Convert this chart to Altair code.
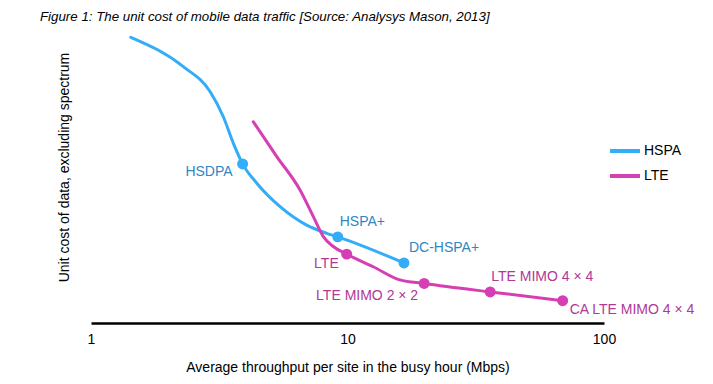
import altair as alt
import pandas as pd

# HSPA curve (throughput Mbps, relative unit cost)
hspa_x = [1.43, 2.29, 2.91, 3.28, 3.59, 3.90, 4.43, 5.46, 6.93, 8.30, 9.16, 16.6]
hspa_y = [97.5, 87.5, 79.0, 70.4, 61.3, 54.3, 47.7, 39.7, 33.4, 30.6, 29.4, 20.5]

# LTE curve
lte_x = [4.29, 5.30, 6.53, 7.36, 8.05, 8.80, 9.93, 12.6, 16.0, 19.9, 36.0, 69.0]
lte_y = [68.7, 56.8, 45.4, 36.3, 29.5, 26.1, 23.5, 19.2, 14.7, 13.5, 10.6, 7.6]

# Labelled technology points
pt_name = ["HSDPA", "HSPA+", "DC-HSPA+", "LTE", "LTE MIMO 2 \u00d7 2", "LTE MIMO 4 \u00d7 4", "CA LTE MIMO 4 \u00d7 4"]
pt_series = ["HSPA", "HSPA", "HSPA", "LTE", "LTE", "LTE", "LTE"]
pt_x = [3.90, 9.16, 16.6, 9.93, 19.9, 36.0, 69.0]
pt_y = [54.3, 29.4, 20.5, 23.5, 13.5, 10.6, 7.6]

series = ["HSPA", "LTE"]
line_colors = ["#33adf7", "#d63fb3"]
label_colors = ["#2e86c4", "#b03897"]

lines = pd.DataFrame(
    {"x": hspa_x + lte_x, "y": hspa_y + lte_y,
     "series": ["HSPA"] * len(hspa_x) + ["LTE"] * len(lte_x)}
)
pts = pd.DataFrame({"name": pt_name, "series": pt_series, "x": pt_x, "y": pt_y})

FONT = "Liberation Sans"

xs = alt.X("x:Q", scale=alt.Scale(type="log", domain=[1, 100]),
           axis=alt.Axis(values=[1, 10, 100], format="d", ticks=False, grid=False,
                         labelFlush=False,
                         domainColor="black", domainWidth=2.5,
                         labelFontSize=14, labelColor="black", labelPadding=9,
                         title="Average throughput per site in the busy hour (Mbps)",
                         titleFontSize=14, titleFontWeight="normal", titleColor="black",
                         titlePadding=14))
ys = alt.Y("y:Q", scale=alt.Scale(domain=[0, 100]),
           axis=alt.Axis(domain=False, ticks=False, labels=False, grid=False,
                         title="Unit cost of data, excluding spectrum",
                         titleFontSize=14, titleFontWeight="normal", titleColor="black",
                         titlePadding=20, titleY=137))

color = alt.Color("series:N",
                  scale=alt.Scale(domain=series, range=line_colors),
                  legend=alt.Legend(title=None, orient="none", legendX=517, legendY=104,
                                    symbolType="stroke", symbolStrokeWidth=4,
                                    symbolSize=900, rowPadding=-5, labelFontSize=14,
                                    labelColor="black", labelOffset=2))

base_line = alt.Chart(lines).mark_line(strokeWidth=3, interpolate="monotone", strokeCap="round").encode(
    x=xs, y=ys, color=color)

dots = alt.Chart(pts).mark_circle(size=120, opacity=1).encode(
    x="x:Q", y="y:Q",
    color=alt.Color("series:N", scale=alt.Scale(domain=series, range=line_colors), legend=None))

def label(name, align, dx, dy):
    return alt.Chart(pts).transform_filter(alt.datum.name == name).mark_text(
        align=align, baseline="middle", dx=dx, dy=dy, fontSize=14, font=FONT
    ).encode(
        x="x:Q", y="y:Q", text="name:N",
        color=alt.Color("series:N", scale=alt.Scale(domain=series, range=label_colors), legend=None))

labels = [
    label("HSDPA", "right", -10, 8),
    label("HSPA+", "left", 2, -15),
    label("DC-HSPA+", "left", 5, -15),
    label("LTE", "right", -8, 10),
    label("LTE MIMO 2 \u00d7 2", "right", -6, 13),
    label("LTE MIMO 4 \u00d7 4", "left", 1, -15),
    label("CA LTE MIMO 4 \u00d7 4", "left", 7, 9),
]

chart = alt.layer(base_line, dots, *labels).resolve_scale(color="independent").properties(
    width=513, height=293,
    autosize=alt.AutoSizeParams(type="none"),
    padding={"left": 83, "top": 22, "right": 101, "bottom": 53},
    title=alt.TitleParams("Figure 1: The unit cost of mobile data traffic [Source: Analysys Mason, 2013]",
                          anchor="start", frame="group", dx=-51, offset=7,
                          fontSize=13.3, fontStyle="italic", fontWeight="normal", color="black",
                          font=FONT),
).configure(font=FONT).configure_view(stroke=None)

chart.save("out.html", embed_options={"renderer": "svg", "actions": False})
